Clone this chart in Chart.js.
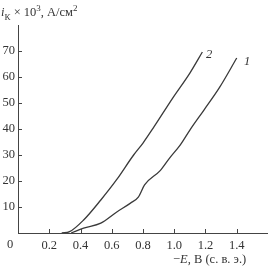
<!DOCTYPE html>
<html>
<head>
<meta charset="utf-8">
<script src="https://cdn.jsdelivr.net/npm/chart.js@4"></script>
<style>
  body { margin: 0; background: #fff; }
  #wrap { position: relative; width: 268px; height: 268px; font-family: "Liberation Serif", serif; color: #333; }
  canvas { position: absolute; left: 0; top: 0; }
  .lbl { position: absolute; font-size: 12.5px; white-space: nowrap; line-height: 1; }
</style>
</head>
<body>
<div id="wrap">
  <canvas id="myChart" width="268" height="268"></canvas>
  <div class="lbl" style="left:1px; top:4px;"><i>i</i><sub style="font-size:9px">К</sub> × 10<sup style="font-size:9px">3</sup>, А/см<sup style="font-size:9px">2</sup></div>
  <div class="lbl" style="left:7px; top:238px;">0</div>
  <div class="lbl" style="left:173px; top:253px;">−<i>E</i>, В (с. в. э.)</div>
  <div class="lbl" style="left:206px; top:48px; font-style:italic;">2</div>
  <div class="lbl" style="left:244px; top:55px; font-style:italic;">1</div>
</div>
<script>
// curve 1 (right) and curve 2 (left)
let xValues1 = [0.34, 0.42, 0.53, 0.63, 0.72, 0.77, 0.81, 0.91, 0.97, 1.04, 1.10, 1.19, 1.29, 1.40];
let yValues1 = [0, 1.9, 3.8, 8, 11.5, 13.8, 18.5, 24, 28.8, 34, 39.6, 47.3, 56, 67.3];
let xValues2 = [0.28, 0.33, 0.42, 0.53, 0.63, 0.74, 0.80, 0.87, 0.99, 1.10, 1.18];
let yValues2 = [0, 0.5, 5, 12.7, 20.4, 30, 34.6, 40.8, 51.9, 61.5, 69.6];
let xTicks = [0.2, 0.4, 0.6, 0.8, 1.0, 1.2, 1.4];
let yTicks = [10, 20, 30, 40, 50, 60, 70];

const ctx = document.getElementById('myChart');
const axisColor = "#444";

const toPoints = (xs, ys) => xs.map((x, i) => ({x: x, y: ys[i]}));

// ticks point inward, like in the original
const innerTicks = {
  id: 'innerTicks',
  afterDraw(chart) {
    const c = chart.ctx;
    const xs = chart.scales.x, ys = chart.scales.y;
    c.save();
    c.strokeStyle = axisColor;
    c.lineWidth = 1;
    xTicks.forEach(v => {
      const px = Math.round(xs.getPixelForValue(v)) + 0.5;
      c.beginPath();
      c.moveTo(px, ys.bottom);
      c.lineTo(px, ys.bottom - 4);
      c.stroke();
    });
    yTicks.forEach(v => {
      const py = Math.round(ys.getPixelForValue(v)) + 0.5;
      c.beginPath();
      c.moveTo(xs.left, py);
      c.lineTo(xs.left + 4, py);
      c.stroke();
    });
    c.restore();
  }
};

new Chart(ctx, {
  type: "line",
  data: {
    datasets: [{
      data: toPoints(xValues1, yValues1),
      borderColor: "#3a3a3a",
      borderWidth: 1.3,
      pointRadius: 0,
      cubicInterpolationMode: "monotone",
      fill: false
    }, {
      data: toPoints(xValues2, yValues2),
      borderColor: "#3a3a3a",
      borderWidth: 1.3,
      pointRadius: 0,
      cubicInterpolationMode: "monotone",
      fill: false
    }]
  },
  options: {
    responsive: false,
    animation: false,
    layout: { padding: { top: 25, right: 0, left: 0, bottom: 0 } },
    plugins: { legend: { display: false }, tooltip: { enabled: false } },
    scales: {
      x: {
        type: "linear",
        min: 0, max: 1.6,
        afterFit: s => { s.height = 35; },
        afterBuildTicks: s => { s.ticks = xTicks.map(v => ({value: v})); },
        grid: { display: false, drawTicks: false },
        border: { color: axisColor, width: 1 },
        ticks: {
          padding: 5,
          color: "#333",
          font: { family: "Liberation Serif", size: 12.5 },
          callback: v => v.toFixed(1)
        }
      },
      y: {
        min: 0, max: 80,
        afterFit: s => { s.width = 18; },
        afterBuildTicks: s => { s.ticks = yTicks.map(v => ({value: v})); },
        grid: { display: false, drawTicks: false },
        border: { color: axisColor, width: 1 },
        ticks: {
          padding: 3,
          color: "#333",
          font: { family: "Liberation Serif", size: 12.5 }
        }
      }
    }
  },
  plugins: [innerTicks]
});
</script>
</body>
</html>
